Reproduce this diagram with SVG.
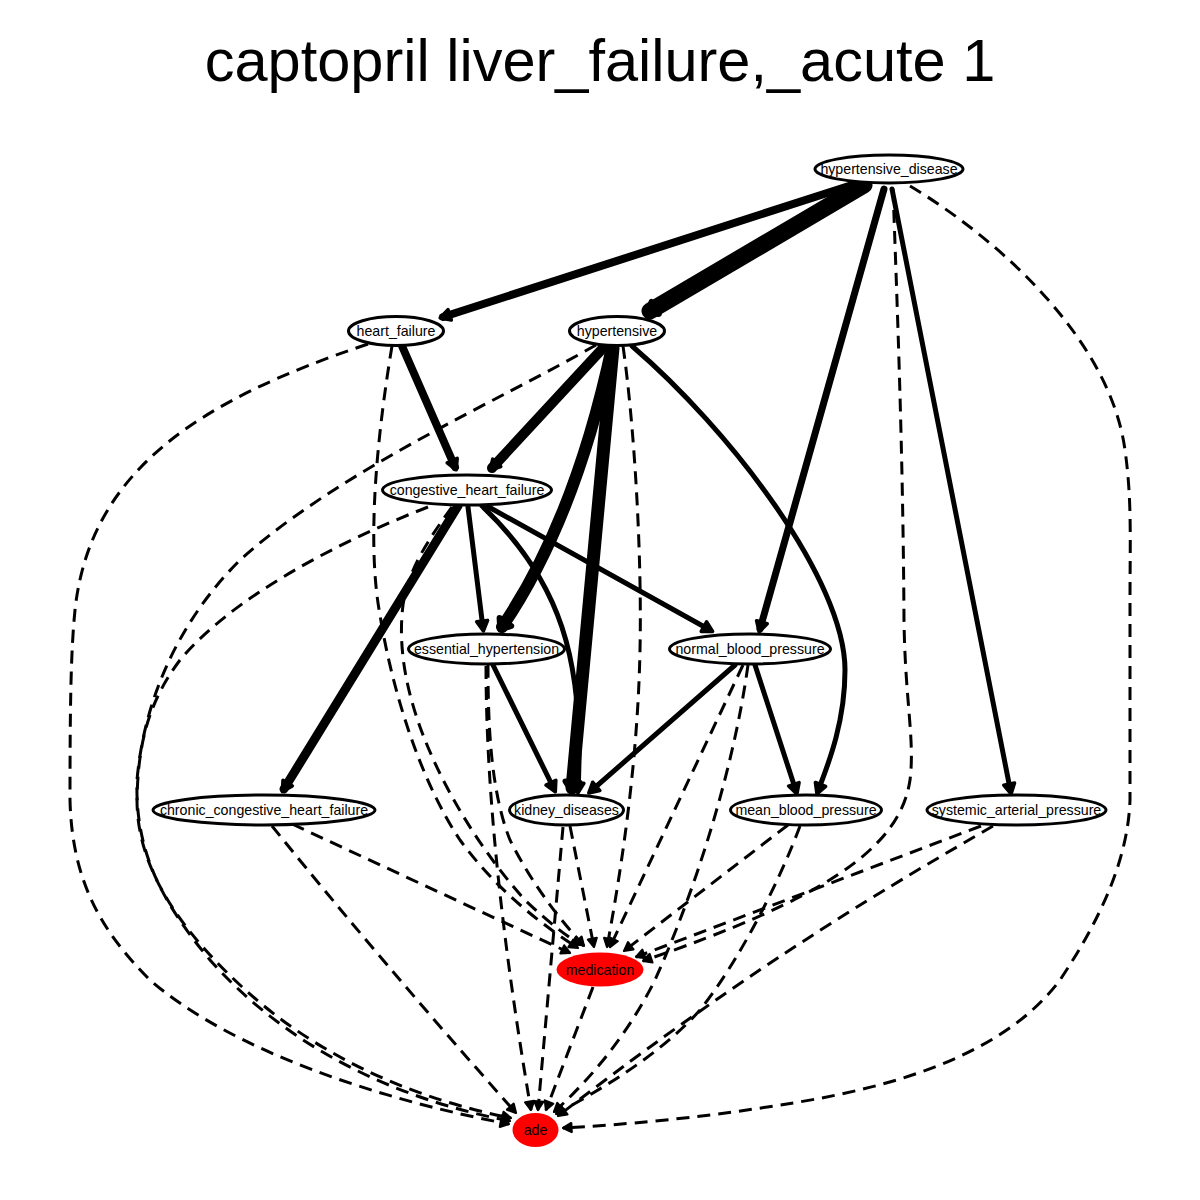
<svg xmlns="http://www.w3.org/2000/svg" width="1200" height="1200" viewBox="0 0 1200 1200">
  <defs>
    <style>
      text { font-family: "Liberation Sans", Arial, sans-serif; font-size: 14.2px; text-anchor: middle; fill: #000; }
      .title { font-size: 59.5px; }
      .node ellipse { fill: #fff; stroke: #000; stroke-width: 3; }
      .hit ellipse { fill: #ff0000; stroke: none; }
      .edges path { fill: none; stroke: #000; }
      .edges .s { stroke-linecap: round; stroke-linejoin: round; marker-end: url(#arr-solid); }
      .edges .s.k { marker-end: url(#arr-thick); }
      .edges .d { stroke-width: 3; stroke-linecap: butt; stroke-dasharray: 13 8; marker-end: url(#arr-dash); }
    </style>
    <marker id="arr-dash" markerUnits="userSpaceOnUse" viewBox="-14 -9 18 18" markerWidth="18" markerHeight="18" refX="0" refY="0" orient="auto" overflow="visible">
      <path d="M-8.5,-4.5 L0,0 L-8.5,4.5 Z" fill="#000" stroke="#000" stroke-width="2.2" stroke-linejoin="round"/>
    </marker>
    <marker id="arr-solid" markerUnits="userSpaceOnUse" viewBox="-16 -10 22 20" markerWidth="22" markerHeight="20" refX="-3" refY="0" orient="auto" overflow="visible">
      <path d="M-10,-5.5 L0,0 L-10,5.5 Z" fill="#000" stroke="#000" stroke-width="3.5" stroke-linejoin="round"/>
    </marker>
    <marker id="arr-thick" markerUnits="userSpaceOnUse" viewBox="-20 -14 28 28" markerWidth="28" markerHeight="28" refX="-3" refY="0" orient="auto" overflow="visible">
      <path d="M-9,-7 L0,0 L-9,7 Z" fill="#000" stroke="#000" stroke-width="6" stroke-linejoin="round"/>
    </marker>
  </defs>

  <rect width="1200" height="1200" fill="#fff"/>
  <text class="title" x="600" y="81">captopril liver_failure,_acute 1</text>

  <g id="edges" class="edges">
    <!-- weighted causal links -->
    <path class="s" stroke-width="8" d="M852,185 L443,317"/>
    <path class="s k" stroke-width="17" d="M864,185 L650,311"/>
    <path class="s" stroke-width="7" d="M884,189 L760,629"/>
    <path class="s" stroke-width="5" d="M892,189 L1010.5,791"/>
    <path class="s" stroke-width="8" d="M402,346 L455,467"/>
    <path class="s" stroke-width="10" d="M604,347 L492,468"/>
    <path class="s k" stroke-width="12" d="M612,347 Q575,520 502,627"/>
    <path class="s k" stroke-width="13" d="M613,348 L572,788"/>
    <path class="s" stroke-width="5" d="M632,346 C730,430 845,580 845,670 C845,720 830,760 818,791"/>
    <path class="s" stroke-width="9" d="M458,506 L284,789"/>
    <path class="s" stroke-width="5" d="M468,507 L483,628"/>
    <path class="s" stroke-width="5" d="M482,506 C560,580 585,660 578,790"/>
    <path class="s" stroke-width="5" d="M487,506 L710,630"/>
    <path class="s" stroke-width="5" d="M493,665 L554,789"/>
    <path class="s" stroke-width="5" d="M735,665 L591,791"/>
    <path class="s" stroke-width="5" d="M755,665 L796,791"/>

    <!-- links into medication -->
    <path class="d" d="M893,189 C897,300 903,450 904,620 C905,700 915,740 910,780 C900,850 820,900 643,961"/>
    <path class="d" d="M392,346 C378,430 366,540 380,615 C392,690 420,780 460,840 C500,895 550,930 578,948"/>
    <path class="d" d="M452,507 C428,540 408,570 403,605 C398,645 405,690 425,740 C445,790 480,850 525,900 C548,922 565,935 581,945"/>
    <path class="d" d="M623,346 C635,430 642,560 640,650 C638,750 625,850 607,947"/>
    <path class="d" d="M292,824 L570,953"/>
    <path class="d" d="M488,665 C488,720 490,790 510,840 C535,890 565,925 584,946"/>
    <path class="d" d="M570,826 L594,947"/>
    <path class="d" d="M743,665 L610,947"/>
    <path class="d" d="M788,825 L624,951"/>
    <path class="d" d="M981,826 L636,957"/>

    <!-- links into ade -->
    <path class="d" d="M910,186 C1000,240 1110,340 1125,450 C1132,500 1130,540 1130,600 L1130,800 C1128,860 1100,920 1060,980 C1000,1060 880,1090 780,1105 C700,1118 620,1125 563,1128"/>
    <path class="d" d="M368,344 C200,400 90,470 75,610 C71,650 70,700 70,800 C72,880 100,930 150,980 C230,1050 380,1100 509,1124"/>
    <path class="d" d="M596,345 C500,400 340,470 240,560 C185,615 145,690 137,780 C135,850 160,900 210,960 C290,1050 400,1100 510,1121"/>
    <path class="d" d="M428,507 C330,545 230,600 180,660 C150,700 138,740 137,800 C137,860 170,920 240,985 C320,1060 420,1100 511,1118"/>
    <path class="d" d="M272,826 Q380,960 516,1113"/>
    <path class="d" d="M486,666 C486,760 495,900 531,1110"/>
    <path class="d" d="M563,827 L538,1110"/>
    <path class="d" d="M748,665 C735,760 700,880 655,980 C630,1030 595,1075 554,1112"/>
    <path class="d" d="M800,826 C780,880 740,960 700,1010 C660,1055 600,1090 556,1114"/>
    <path class="d" d="M993,826 C900,880 760,960 558,1116"/>
    <path class="d" d="M593,987 L546,1110"/>
  </g>

  <g id="hypertensive_disease" class="node"><ellipse cx="889" cy="169" rx="74" ry="14"/><text x="889" y="174">hypertensive_disease</text></g>
  <g id="heart_failure" class="node"><ellipse cx="396" cy="331" rx="47.5" ry="14.5"/><text x="396" y="336">heart_failure</text></g>
  <g id="hypertensive" class="node"><ellipse cx="617" cy="331" rx="47.5" ry="14.5"/><text x="617" y="336">hypertensive</text></g>
  <g id="congestive_heart_failure" class="node"><ellipse cx="467" cy="490" rx="84.5" ry="15"/><text x="467" y="495">congestive_heart_failure</text></g>
  <g id="essential_hypertension" class="node"><ellipse cx="486.5" cy="649" rx="78" ry="15"/><text x="486.5" y="654">essential_hypertension</text></g>
  <g id="normal_blood_pressure" class="node"><ellipse cx="750" cy="649" rx="80.5" ry="15"/><text x="750" y="654">normal_blood_pressure</text></g>
  <g id="chronic_congestive_heart_failure" class="node"><ellipse cx="264" cy="810" rx="111" ry="15"/><text x="264" y="815">chronic_congestive_heart_failure</text></g>
  <g id="kidney_diseases" class="node"><ellipse cx="566.5" cy="810" rx="57" ry="15"/><text x="566.5" y="815">kidney_diseases</text></g>
  <g id="mean_blood_pressure" class="node"><ellipse cx="806" cy="810" rx="75.5" ry="15"/><text x="806" y="815">mean_blood_pressure</text></g>
  <g id="systemic_arterial_pressure" class="node"><ellipse cx="1016.5" cy="810" rx="89.5" ry="15"/><text x="1016.5" y="815">systemic_arterial_pressure</text></g>
  <g id="medication" class="hit"><ellipse cx="600" cy="969.5" rx="43.5" ry="17"/><text x="600" y="974.5">medication</text></g>
  <g id="ade" class="hit"><ellipse cx="535.5" cy="1130" rx="23" ry="17"/><text x="535.5" y="1135">ade</text></g>
</svg>
